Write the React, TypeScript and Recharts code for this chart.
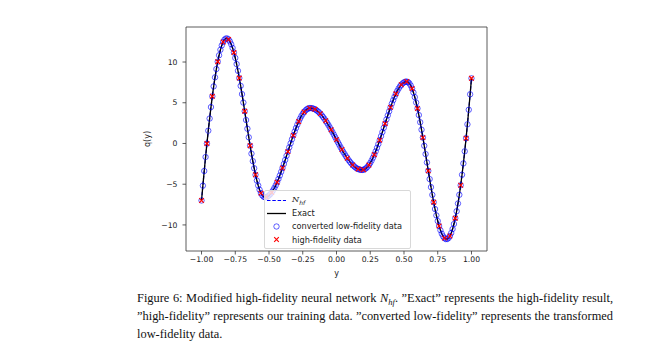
import { ComposedChart, Line, Scatter, XAxis, YAxis, ReferenceArea, Label } from "recharts";

// sample positions on y for the exact curve and the converted low-fidelity points
const ySamples = [
  -1.0, -0.99, -0.98, -0.97, -0.96, -0.95, -0.94, -0.93, -0.92, -0.91,
  -0.9, -0.89, -0.88, -0.87, -0.86, -0.85, -0.84, -0.83, -0.82, -0.81,
  -0.8, -0.79, -0.78, -0.77, -0.76, -0.75, -0.74, -0.73, -0.72, -0.71,
  -0.7, -0.69, -0.68, -0.67, -0.66, -0.65, -0.64, -0.63, -0.62, -0.61,
  -0.6, -0.59, -0.58, -0.57, -0.56, -0.55, -0.54, -0.53, -0.52, -0.51,
  -0.5, -0.49, -0.48, -0.47, -0.46, -0.45, -0.44, -0.43, -0.42, -0.41,
  -0.4, -0.39, -0.38, -0.37, -0.36, -0.35, -0.34, -0.33, -0.32, -0.31,
  -0.3, -0.29, -0.28, -0.27, -0.26, -0.25, -0.24, -0.23, -0.22, -0.21,
  -0.2, -0.19, -0.18, -0.17, -0.16, -0.15, -0.14, -0.13, -0.12, -0.11,
  -0.1, -0.09, -0.08, -0.07, -0.06, -0.05, -0.04, -0.03, -0.02, -0.01,
  0.0, 0.01, 0.02, 0.03, 0.04, 0.05, 0.06, 0.07, 0.08, 0.09,
  0.1, 0.11, 0.12, 0.13, 0.14, 0.15, 0.16, 0.17, 0.18, 0.19,
  0.2, 0.21, 0.22, 0.23, 0.24, 0.25, 0.26, 0.27, 0.28, 0.29,
  0.3, 0.31, 0.32, 0.33, 0.34, 0.35, 0.36, 0.37, 0.38, 0.39,
  0.4, 0.41, 0.42, 0.43, 0.44, 0.45, 0.46, 0.47, 0.48, 0.49,
  0.5, 0.51, 0.52, 0.53, 0.54, 0.55, 0.56, 0.57, 0.58, 0.59,
  0.6, 0.61, 0.62, 0.63, 0.64, 0.65, 0.66, 0.67, 0.68, 0.69,
  0.7, 0.71, 0.72, 0.73, 0.74, 0.75, 0.76, 0.77, 0.78, 0.79,
  0.8, 0.81, 0.82, 0.83, 0.84, 0.85, 0.86, 0.87, 0.88, 0.89,
  0.9, 0.91, 0.92, 0.93, 0.94, 0.95, 0.96, 0.97, 0.98, 0.99,
  1.0,
];

// q(y)
const exactQ = [
  -7.0, -5.18, -3.38, -1.66, -0.01, 1.57, 3.06, 4.47, 5.79, 7.01,
  8.12, 9.14, 10.04, 10.83, 11.5, 12.04, 12.46, 12.74, 12.88, 12.89,
  12.77, 12.53, 12.18, 11.73, 11.16, 10.5, 9.75, 8.92, 8.03, 7.07,
  6.06, 5.02, 3.96, 2.88, 1.81, 0.76, -0.27, -1.25, -2.17, -3.04,
  -3.84, -4.55, -5.16, -5.68, -6.09, -6.37, -6.54, -6.6, -6.58, -6.5,
  -6.38, -6.22, -6.01, -5.76, -5.46, -5.13, -4.76, -4.36, -3.93, -3.48,
  -3.01, -2.52, -2.02, -1.51, -1.0, -0.48, 0.02, 0.52, 1.0, 1.46,
  1.9, 2.31, 2.7, 3.05, 3.37, 3.65, 3.87, 4.06, 4.2, 4.3,
  4.34, 4.35, 4.32, 4.27, 4.2, 4.1, 3.97, 3.83, 3.66, 3.47,
  3.26, 3.04, 2.79, 2.54, 2.27, 1.98, 1.69, 1.4, 1.09, 0.78,
  0.47, 0.16, -0.14, -0.45, -0.74, -1.03, -1.3, -1.57, -1.81, -2.05,
  -2.26, -2.46, -2.64, -2.8, -2.94, -3.05, -3.14, -3.2, -3.24, -3.25,
  -3.23, -3.15, -3.03, -2.86, -2.65, -2.39, -2.09, -1.75, -1.38, -0.97,
  -0.54, -0.08, 0.4, 0.9, 1.4, 1.92, 2.43, 2.95, 3.45, 3.95,
  4.43, 4.89, 5.32, 5.73, 6.1, 6.44, 6.74, 7.0, 7.21, 7.38,
  7.5, 7.58, 7.6, 7.54, 7.38, 7.11, 6.74, 6.26, 5.69, 5.03,
  4.3, 3.49, 2.61, 1.69, 0.72, -0.28, -1.3, -2.33, -3.36, -4.37,
  -5.36, -6.31, -7.21, -8.05, -8.83, -9.52, -10.13, -10.65, -11.08, -11.4,
  -11.62, -11.74, -11.73, -11.61, -11.36, -10.99, -10.5, -9.89, -9.17, -8.32,
  -7.37, -6.3, -5.13, -3.84, -2.45, -0.96, 0.64, 2.35, 4.14, 6.04,
  8.0,
];

// high-fidelity training points (red crosses)
const hfY = [
  -1.0, -0.96, -0.92, -0.88, -0.84, -0.8, -0.76, -0.72, -0.68, -0.64,
  -0.6, -0.56, -0.52, -0.48, -0.44, -0.4, -0.36, -0.32, -0.28, -0.24,
  -0.2, -0.16, -0.12, -0.08, -0.04, 0.0, 0.04, 0.08, 0.12, 0.16,
  0.2, 0.24, 0.28, 0.32, 0.36, 0.4, 0.44, 0.48, 0.52, 0.56,
  0.6, 0.64, 0.68, 0.72, 0.76, 0.8, 0.84, 0.88, 0.92, 0.96,
  1.0,
];
const hfQ = [
  -7.0, -0.01, 5.79, 10.04, 12.46, 12.77, 11.16, 8.03, 3.96, -0.27,
  -3.84, -6.09, -6.58, -6.01, -4.76, -3.01, -1.0, 1.0, 2.7, 3.87,
  4.34, 4.2, 3.66, 2.79, 1.69, 0.47, -0.74, -1.81, -2.64, -3.14,
  -3.23, -2.65, -1.38, 0.4, 2.43, 4.43, 6.1, 7.21, 7.6, 6.74,
  4.3, 0.72, -3.36, -7.21, -10.13, -11.62, -11.36, -9.17, -5.13, 0.64,
  8.0,
];

const xTicks = [-1, -0.75, -0.5, -0.25, 0, 0.25, 0.5, 0.75, 1];
const qTicks = [-10, -5, 0, 5, 10];
const xDomain = [-1.115, 1.115];
const qDomain = [-13.2, 14.3];

const curve = ySamples.map((x, i) => ({ x, y: exactQ[i] }));
const lowFi = ySamples.map((x, i) => ({ x, y: exactQ[i] }));
const highFi = hfY.map((x, i) => ({ x, y: hfQ[i] }));

const minus = (s: string) => s.replace("-", "\u2212");
const tickFont = { fontFamily: "DejaVu Sans", fontSize: 7.7, fill: "#222" };

const Ring = (p: any) => (
  <circle cx={p.cx} cy={p.cy} r={2.7} fill="none" stroke="#0000ff" strokeOpacity={0.75} strokeWidth={0.85} />
);

const Cross = (p: any) => {
  const s = 2.3;
  return (
    <g stroke="#ff0000" strokeWidth={1.15}>
      <line x1={p.cx - s} y1={p.cy - s} x2={p.cx + s} y2={p.cy + s} />
      <line x1={p.cx - s} y1={p.cy + s} x2={p.cx + s} y2={p.cy - s} />
    </g>
  );
};

const LegendBox = () => {
  const row = (marker: any, label: any) => (
    <div style={{ display: "flex", alignItems: "center", height: 13.2 }}>
      <svg width={26} height={13} style={{ flex: "none" }}>{marker}</svg>
      <span style={{ whiteSpace: "nowrap" }}>{label}</span>
    </div>
  );
  return (
    <div
      style={{
        position: "absolute",
        left: 264,
        top: 190,
        width: 144,
        padding: "2.5px 0 1.5px 1px",
        background: "rgba(255,255,255,0.8)",
        border: "1px solid #d8d8d8",
        borderRadius: 2,
        fontFamily: "DejaVu Sans",
        fontSize: 8.2,
        color: "#222",
        lineHeight: 1,
      }}
    >
      {row(
        <line x1={1} y1={6.5} x2={20} y2={6.5} stroke="#0000ff" strokeWidth={1.2} strokeDasharray="3.5 1.8" />,
        <span>
          <span style={{ fontFamily: "DejaVu Serif", fontStyle: "italic" }}>N</span>
          <sub style={{ fontSize: 6, fontStyle: "italic" }}>hf</sub>
        </span>
      )}
      {row(<line x1={1} y1={6.5} x2={20} y2={6.5} stroke="#000" strokeWidth={1.3} />, "Exact")}
      {row(<circle cx={10.5} cy={6.5} r={2.7} fill="none" stroke="#0000ff" strokeOpacity={0.75} strokeWidth={0.85} />, "converted low-fidelity data")}
      {row(
        <g stroke="#ff0000" strokeWidth={1.15}>
          <line x1={8.2} y1={4.2} x2={12.8} y2={8.8} />
          <line x1={8.2} y1={8.8} x2={12.8} y2={4.2} />
        </g>,
        "high-fidelity data"
      )}
    </div>
  );
};

const capLine = { position: "absolute" as const, left: 137, width: 476, whiteSpace: "nowrap" as const };

export default function App() {
  return (
    <div style={{ position: "absolute", left: 0, top: 0, width: 650, height: 360, background: "#fff" }}>
      <ComposedChart
        width={650}
        height={360}
        data={curve}
        margin={{ top: 27, right: 163, bottom: 79, left: 141 }}
      >
        <XAxis
          type="number"
          dataKey="x"
          domain={xDomain}
          allowDataOverflow
          ticks={xTicks}
          tickFormatter={(v: number) => minus(v.toFixed(2))}
          tick={tickFont}
          tickSize={3.5}
          tickMargin={2}
          tickLine={{ stroke: "#333", strokeWidth: 0.8 }}
          axisLine={false}
          height={30}
        >
          <Label value="y" position="insideBottom" offset={5} style={{ ...tickFont, fontSize: 8 }} />
        </XAxis>
        <YAxis
          type="number"
          dataKey="y"
          domain={qDomain}
          allowDataOverflow
          ticks={qTicks}
          tickFormatter={(v: number) => minus(String(v))}
          tick={tickFont}
          tickSize={3.5}
          tickMargin={5}
          tickLine={{ stroke: "#333", strokeWidth: 0.8 }}
          axisLine={false}
          width={45}
        >
          <Label value="q(y)" angle={-90} position="insideLeft" offset={6} style={{ ...tickFont, fontSize: 8, textAnchor: "middle" }} />
        </YAxis>
        <ReferenceArea
          x1={xDomain[0]}
          x2={xDomain[1]}
          y1={qDomain[0]}
          y2={qDomain[1]}
          fill="none"
          stroke="#333"
          strokeWidth={0.8}
          ifOverflow="visible"
        />
        <Line data={curve} dataKey="y" stroke="#0000ff" strokeWidth={1.2} strokeDasharray="3.5 1.8" dot={false} isAnimationActive={false} />
        <Line data={curve} dataKey="y" stroke="#000" strokeWidth={1.3} dot={false} isAnimationActive={false} />
        <Scatter data={lowFi} dataKey="y" shape={Ring} isAnimationActive={false} />
        <Scatter data={highFi} dataKey="y" shape={Cross} isAnimationActive={false} />
      </ComposedChart>
      <LegendBox />
      <div style={{ fontFamily: "Liberation Serif", fontSize: 12.4, color: "#111" }}>
        <div style={{ ...capLine, top: 291, textAlignLast: "justify" }}>
          Figure 6: Modified high-fidelity neural network{" "}
          <span style={{ fontStyle: "italic" }}>N</span>
          <sub style={{ fontStyle: "italic", fontSize: 8.5 }}>hf</sub>. ”Exact” represents the high-fidelity result,
        </div>
        <div style={{ ...capLine, top: 309, textAlignLast: "justify" }}>
          ”high-fidelity” represents our training data. ”converted low-fidelity” represents the transformed
        </div>
        <div style={{ ...capLine, top: 327 }}>low-fidelity data.</div>
      </div>
    </div>
  );
}
